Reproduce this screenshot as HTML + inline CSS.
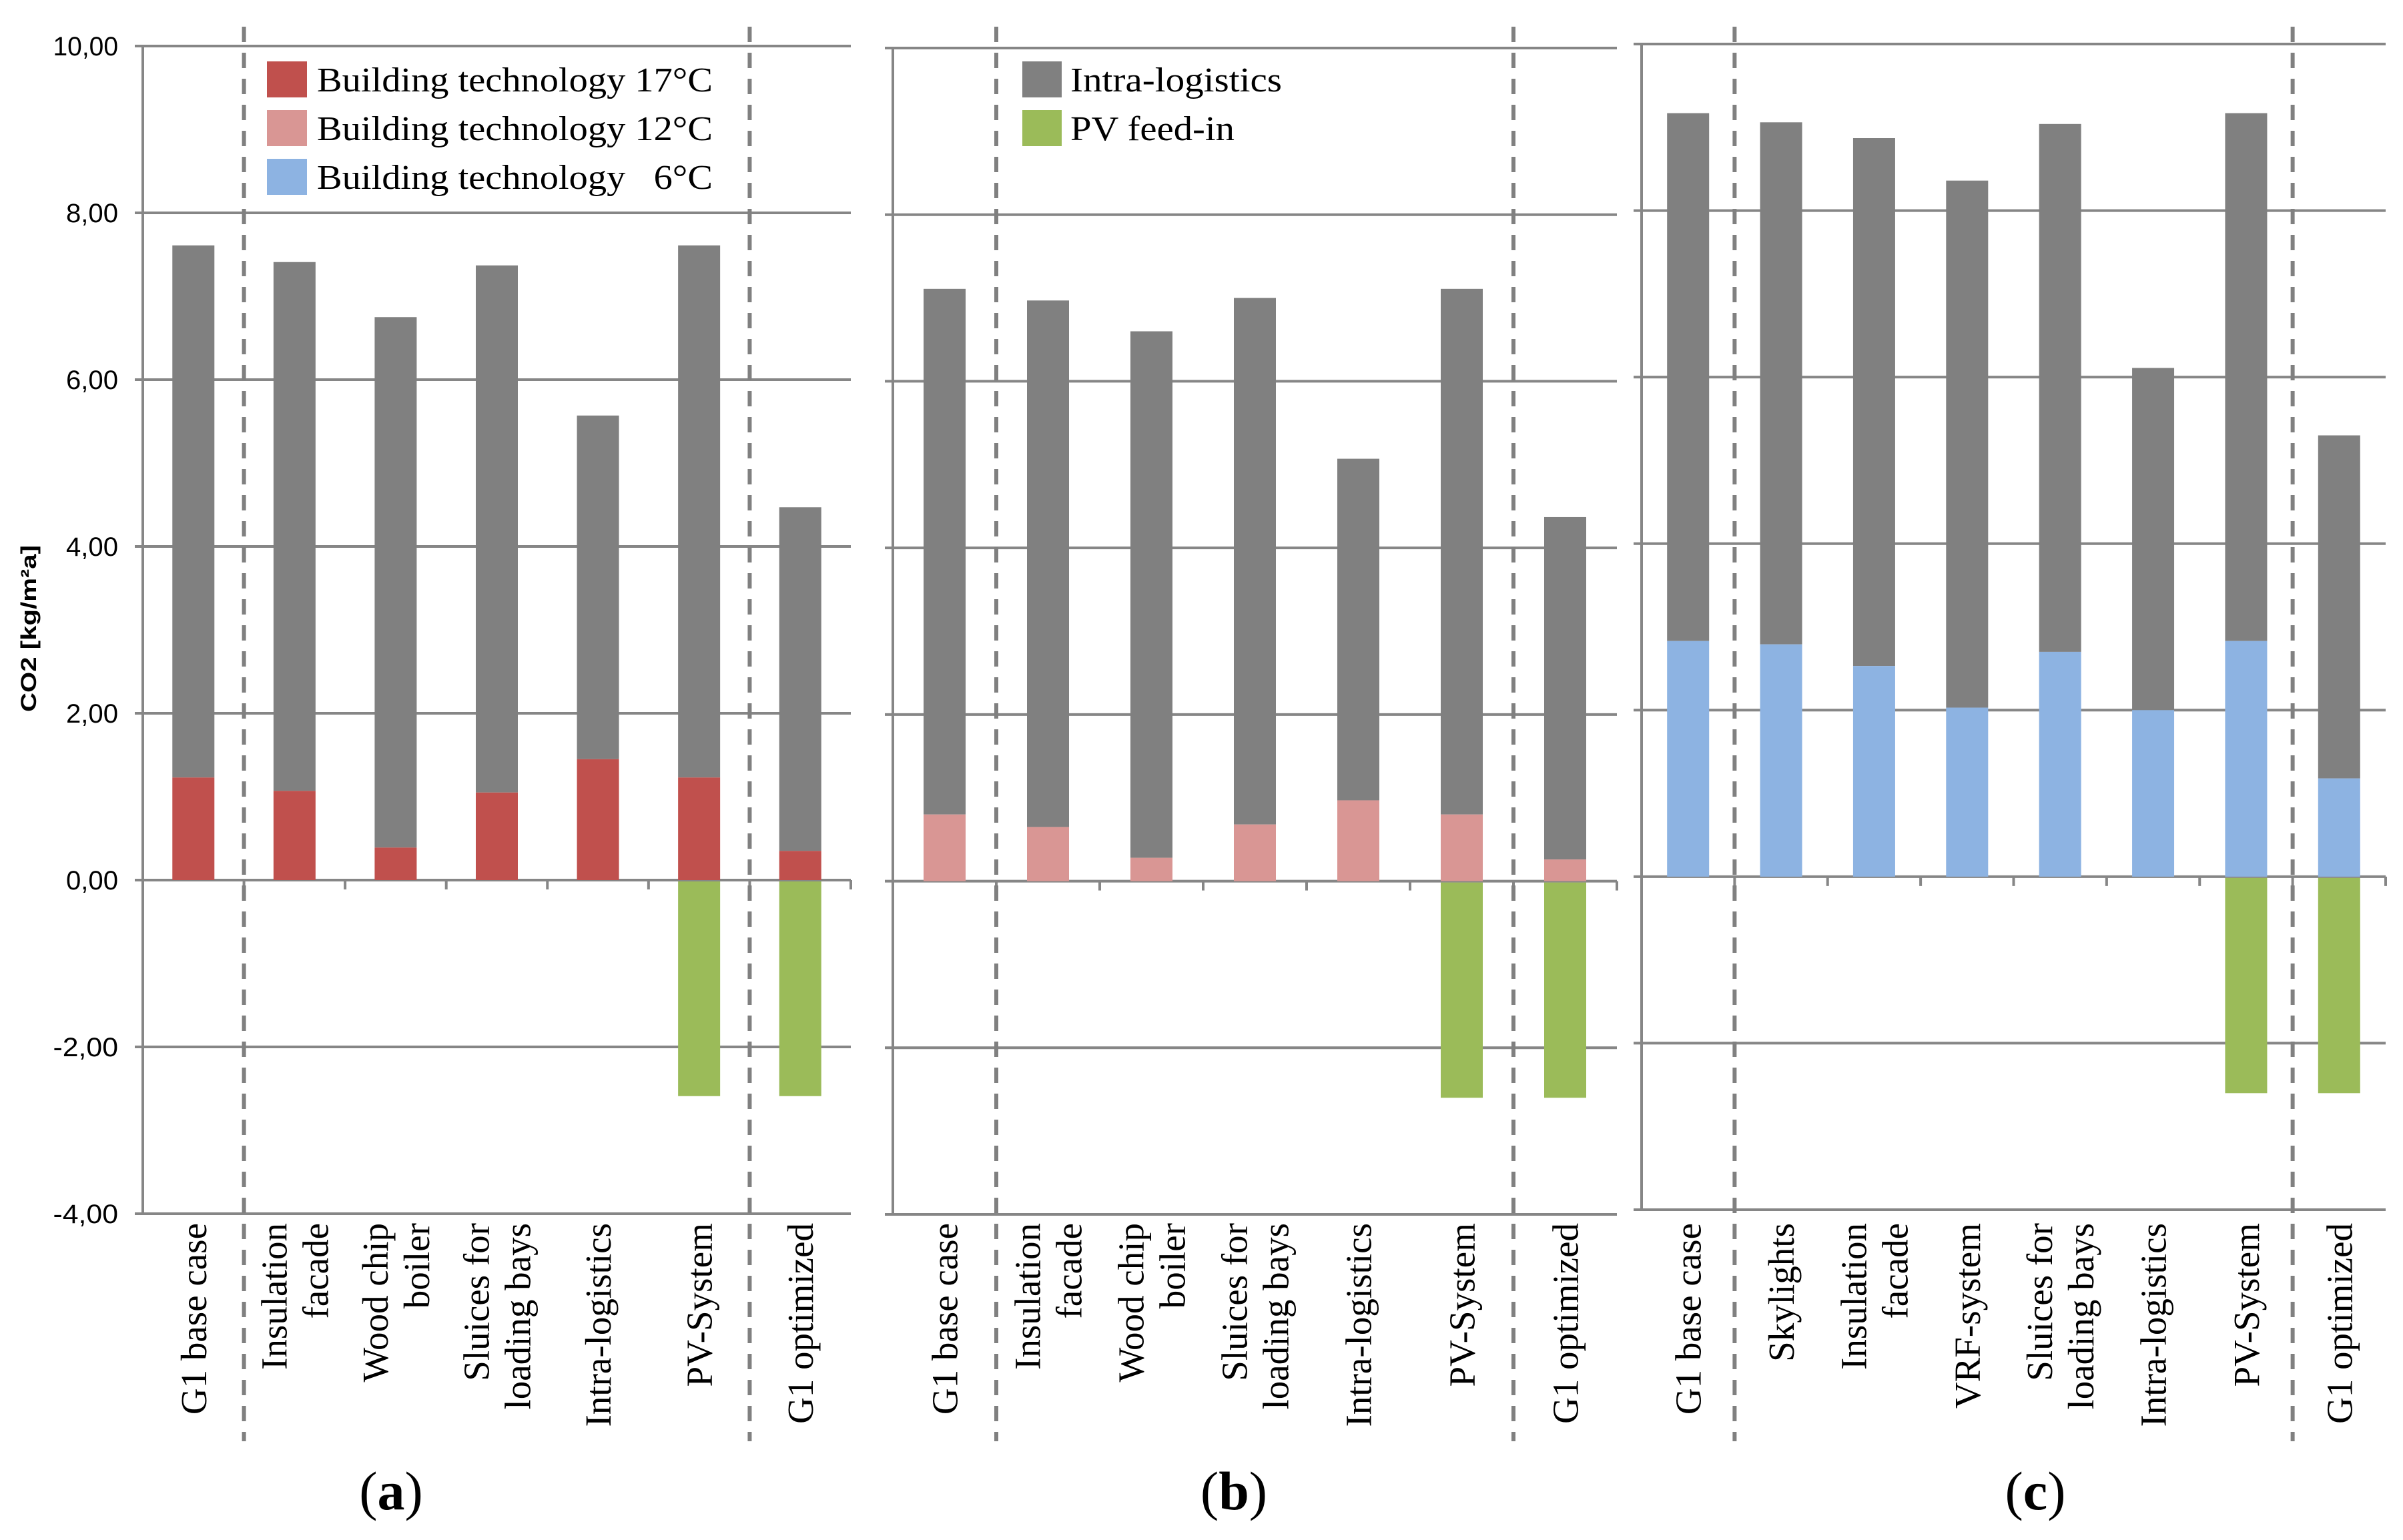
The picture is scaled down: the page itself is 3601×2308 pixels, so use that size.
<!DOCTYPE html>
<html><head><meta charset="utf-8">
<style>
html,body{margin:0;padding:0;background:#fff;}
svg{display:block;}
</style></head>
<body>
<svg id="chart" xmlns="http://www.w3.org/2000/svg" width="3601" height="2308" viewBox="0 0 3601 2308">
<rect x="0" y="0" width="3601" height="2308" fill="#fff"/>
<g id="root"></g>
</svg>
<script>
// ---- data ----
const yTicks = [10, 8, 6, 4, 2, 0, -2, -4];
const yTickLabels = ["10,00", "8,00", "6,00", "4,00", "2,00", "0,00", "-2,00", "-4,00"];

const catsA = [["G1 base case"], ["Insulation", "facade"], ["Wood chip", "boiler"], ["Sluices for", "loading bays"], ["Intra-logistics"], ["PV-System"], ["G1 optimized"]];
const totalA = [7.61, 7.41, 6.75, 7.37, 5.57, 7.61, 4.47];
const techA = [1.23, 1.07, 0.39, 1.05, 1.45, 1.23, 0.35];
const pvA = [0, 0, 0, 0, 0, -2.59, -2.59];

const catsB = [["G1 base case"], ["Insulation", "facade"], ["Wood chip", "boiler"], ["Sluices for", "loading bays"], ["Intra-logistics"], ["PV-System"], ["G1 optimized"]];
const totalB = [7.11, 6.97, 6.60, 7.00, 5.07, 7.11, 4.37];
const techB = [0.80, 0.65, 0.28, 0.68, 0.97, 0.80, 0.26];
const pvB = [0, 0, 0, 0, 0, -2.60, -2.60];

const catsC = [["G1 base case"], ["Skylights"], ["Insulation", "facade"], ["VRF-system"], ["Sluices for", "loading bays"], ["Intra-logistics"], ["PV-System"], ["G1 optimized"]];
const totalC = [9.17, 9.06, 8.87, 8.36, 9.04, 6.11, 9.17, 5.30];
const techC = [2.83, 2.79, 2.53, 2.03, 2.70, 2.00, 2.83, 1.18];
const pvC = [0, 0, 0, 0, 0, 0, -2.60, -2.60];

const legendA = ["Building technology 17°C", "Building technology 12°C", "Building technology   6°C"];
const legendB = ["Intra-logistics", "PV feed-in"];
// ---- end data ----

const NS = "http://www.w3.org/2000/svg";
const root = document.getElementById("root");
const GRID = "#868686", GRAY = "#808080", GREEN = "#9BBB59";
function mk(tag, attrs, parent) {
  const e = document.createElementNS(NS, tag);
  for (const k in attrs) e.setAttribute(k, attrs[k]);
  (parent || root).appendChild(e);
  return e;
}

const panels = [
  {id: "a", x0: 214, x1: 1275, yTop: 69, yBot: 1819, cats: catsA, total: totalA, tech: techA, pv: pvA, color: "#C0504D", dashes: [1, 6], labels: true, caption: 586},
  {id: "b", x0: 1338, x1: 2423, yTop: 72, yBot: 1820, cats: catsB, total: totalB, tech: techB, pv: pvB, color: "#D99694", dashes: [1, 6], labels: false, caption: 1849},
  {id: "c", x0: 2460, x1: 3575, yTop: 66, yBot: 1813, cats: catsC, total: totalC, tech: techC, pv: pvC, color: "#8DB3E2", dashes: [1, 7], labels: false, caption: 3050}
];

panels.forEach(p => {
  const g = mk("g", {});
  
  
  const yScale = v => p.yTop + (10 - v) / 14 * (p.yBot - p.yTop);
  const n = p.cats.length;
  const cw = (p.x1 - p.x0) / n;
  const xCenter = i => p.x0 + cw * (i + 0.5);
  const bw = 63;

  yTicks.forEach((t, i) => {
    const y = yScale(t);
    const ln = mk("line", {x1: p.x0 - 12, x2: p.x1, y1: y, y2: y, stroke: GRID, "stroke-width": 4}, g);
    
    
    if (p.labels) {
      const tx = mk("text", {x: 177, y: y + 14, "text-anchor": "end", "font-family": "Liberation Sans Narrow, Liberation Sans, sans-serif", "font-size": 40, fill: "#000", textLength: yTickLabels[i].length * 19.5, lengthAdjust: "spacingAndGlyphs"}, g);
      tx.textContent = yTickLabels[i];
      
      
    }
  });
  const ax = mk("line", {x1: p.x0, x2: p.x0, y1: p.yTop, y2: p.yBot, stroke: GRID, "stroke-width": 4}, g);
  
  
  const y0 = yScale(0);
  for (let k = 1; k <= n; k++) {
    const tx = p.x0 + cw * k;
    const tk = mk("line", {x1: tx, x2: tx, y1: y0, y2: y0 + 14, stroke: GRID, "stroke-width": 4}, g);
    
    
  }
  for (let i = 0; i < n; i++) {
    const xc = xCenter(i);
    const gray = mk("rect", {x: xc - bw / 2, y: yScale(p.total[i]), width: bw, height: yScale(p.tech[i]) - yScale(p.total[i]), fill: GRAY}, g);
    
    
    const tech = mk("rect", {x: xc - bw / 2, y: yScale(p.tech[i]), width: bw, height: yScale(0) - yScale(p.tech[i]), fill: p.color}, g);
    
    
    if (p.pv[i] < 0) {
      const pv = mk("rect", {x: xc - bw / 2, y: yScale(0) + 2, width: bw, height: yScale(p.pv[i]) - yScale(0) - 2, fill: GREEN}, g);
      
      
    }
    const lines = p.cats[i];
    const t = mk("text", {transform: "translate(" + xc + ",1833) rotate(-90)", "text-anchor": "end", "font-family": "Liberation Serif, serif", "font-size": 55, fill: "#000"}, g);
    
    
    lines.forEach((s, j) => {
      const ts = mk("tspan", {x: 0, y: (j - (lines.length - 1) / 2) * 62 + 19}, t);
      ts.textContent = s;
    });
  }
  p.dashes.forEach(k => {
    const dx = p.x0 + cw * k;
    const d = mk("line", {x1: dx, x2: dx, y1: 40, y2: 2160, stroke: GRAY, "stroke-width": 6, "stroke-dasharray": "23 16"}, g);
    
    
  });
  const cap = mk("text", {x: p.caption, y: 2262, "text-anchor": "middle", "font-family": "Liberation Serif, serif", "font-size": 82, fill: "#000"}, g);
  
  
  const t1 = mk("tspan", {}, cap); t1.textContent = "(";
  const t2 = mk("tspan", {"font-weight": "bold"}, cap); t2.textContent = p.id;
  const t3 = mk("tspan", {}, cap); t3.textContent = ")";
});

const yt = mk("text", {transform: "translate(54,942) rotate(-90)", "text-anchor": "middle", "font-family": "Liberation Sans, sans-serif", "font-weight": "bold", "font-size": 32, fill: "#000", textLength: 250, lengthAdjust: "spacingAndGlyphs"});
yt.textContent = "CO2 [kg/m²a]";



const legColA = ["#C0504D", "#D99694", "#8DB3E2"];
legendA.forEach((s, i) => {
  const y = 92 + i * 73;
  const sw = mk("rect", {x: 400, y: y, width: 60, height: 54, fill: legColA[i]});
  
  
  const tx = mk("text", {x: 475, y: y + 45, "font-family": "Liberation Serif, serif", "font-size": 52, fill: "#000", textLength: 593, lengthAdjust: "spacingAndGlyphs", style: "white-space:pre"});
  tx.textContent = s;
  
  
});
const legColB = [GRAY, GREEN];
const legLenB = [317, 246];
legendB.forEach((s, i) => {
  const y = 92 + i * 73;
  const sw = mk("rect", {x: 1532, y: y, width: 59, height: 54, fill: legColB[i]});
  
  
  const tx = mk("text", {x: 1604, y: y + 45, "font-family": "Liberation Serif, serif", "font-size": 52, fill: "#000", textLength: legLenB[i], lengthAdjust: "spacingAndGlyphs"});
  tx.textContent = s;
  
  
});
</script>
</body></html>
